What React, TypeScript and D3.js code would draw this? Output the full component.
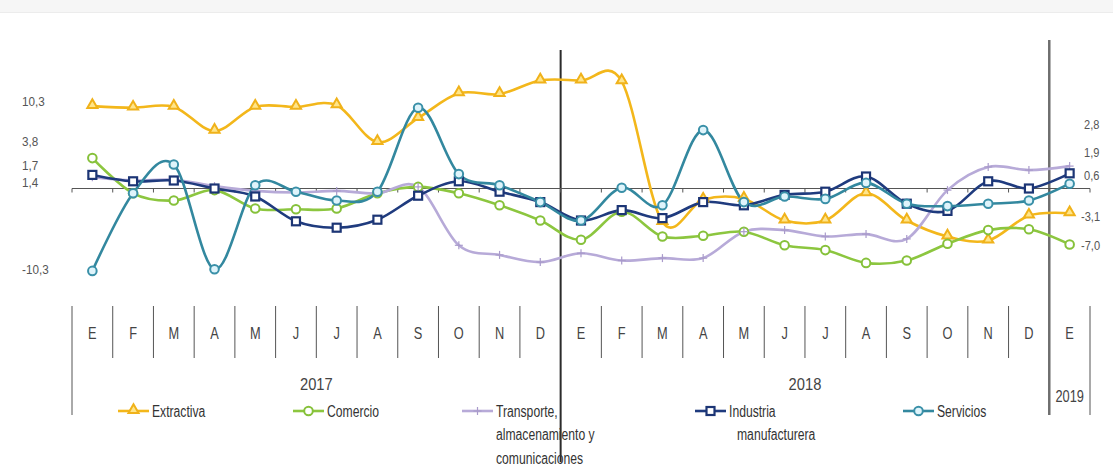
import { useMemo } from 'react';
import * as d3 from 'd3';

const WIDTH = 1113;
const HEIGHT = 466;

const months = ['E', 'F', 'M', 'A', 'M', 'J', 'J', 'A', 'S', 'O', 'N', 'D',
    'E', 'F', 'M', 'A', 'M', 'J', 'J', 'A', 'S', 'O', 'N', 'D', 'E'];
const years = ['2017', '2018', '2019'];

const extractiva = [10.3, 10.1, 10.2, 7.2, 10.2, 10.2, 10.4, 5.8, 8.8, 11.9, 11.8, 13.5, 13.5,
    13.4, -4.2, -1.4, -1.3, -4.0, -4.0, -0.6, -4.0, -6.0, -6.5, -3.4, -3.1];
const comercio = [3.8, -0.6, -1.5, -0.2, -2.5, -2.6, -2.5, -0.6, 0.2, -0.6, -2.1, -4.0, -6.4,
    -2.9, -6.0, -5.9, -5.4, -7.1, -7.7, -9.3, -9.0, -6.9, -5.2, -5.1, -7.0];
const transporte = [1.4, 1.0, 1.1, 0.3, -0.3, -0.5, -0.3, -0.6, 0.2, -7.1, -8.3, -9.2, -8.1,
    -9.0, -8.7, -8.7, -5.4, -5.2, -6.0, -5.7, -6.3, -0.2, 2.7, 2.3, 2.8];
const industria = [1.7, 0.9, 1.0, 0.0, -1.0, -4.1, -4.9, -3.9, -0.9, 0.9, -0.4, -1.7, -4.0,
    -2.7, -3.7, -1.7, -2.1, -0.8, -0.4, 1.5, -1.9, -2.8, 0.9, 0.0, 1.9];
const servicios = [-10.3, -0.6, 3.0, -10.1, 0.4, -0.4, -1.5, -0.4, 10.1, 1.8, 0.4, -1.7, -4.0,
    0.1, -2.1, 7.3, -1.7, -1.0, -1.3, 0.7, -1.9, -2.2, -1.9, -1.5, 0.6];

const seriesNames = ['Extractiva', 'Comercio', 'Transporte, almacenamiento y comunicaciones',
    'Industria manufacturera', 'Servicios'];

// labels beside the first and last month
const leftLabels = ['10,3', '3,8', '1,7', '1,4', '-10,3'];
const rightLabels = ['2,8', '1,9', '0,6', '-3,1', '-7,0'];

const FONT = "'Liberation Sans Narrow', 'Arial Narrow', 'Liberation Sans', Arial, sans-serif";

type Style = {
    line: string;
    marker: 'triangle' | 'circle' | 'cross' | 'square';
    stroke: string;
    fill: string;
};

const STYLES: Style[] = [
    { line: '#F3B71B', marker: 'triangle', stroke: '#F0B21A', fill: '#FFE58A' },
    { line: '#8CC63F', marker: 'circle', stroke: '#86C13A', fill: '#FFFFFF' },
    { line: '#B7AAD8', marker: 'cross', stroke: '#A99BCB', fill: 'none' },
    { line: '#1F3B7E', marker: 'square', stroke: '#1C3575', fill: '#FFFFFF' },
    { line: '#33889F', marker: 'circle', stroke: '#3A90A8', fill: '#DFF4FB' },
];

const Marker = ({ x, y, s }: { x: number; y: number; s: Style }) => {
    if (s.marker === 'triangle') {
        const p = d3.symbol(d3.symbolTriangle, 44)();
        return <path d={p || ''} transform={`translate(${x},${y - 1})`} fill={s.fill} stroke={s.stroke} strokeWidth={2} />;
    }
    if (s.marker === 'square') {
        return <rect x={x - 4} y={y - 4} width={8} height={8} fill={s.fill} stroke={s.stroke} strokeWidth={2.2} />;
    }
    if (s.marker === 'cross') {
        return (
            <g stroke={s.stroke} strokeWidth={1.2}>
                <line x1={x - 4} x2={x + 4} y1={y} y2={y} />
                <line x1={x} x2={x} y1={y - 4} y2={y + 4} />
            </g>
        );
    }
    return <circle cx={x} cy={y} r={4.3} fill={s.fill} stroke={s.stroke} strokeWidth={2} />;
};

// no narrow font is installed, so the regular one is squeezed sideways
const Label = ({ x, y, size, fill, sx = 0.8, anchor = 'start', children }: {
    x: number; y: number; size: number; fill: string; sx?: number; anchor?: string; children: string;
}) => (
    <text
        transform={`translate(${x},${y}) scale(${sx},1)`}
        textAnchor={anchor}
        dominantBaseline="central"
        fontFamily={FONT}
        fontSize={size}
        fill={fill}
    >
        {children}
    </text>
);

export default function App() {
    const data = [extractiva, comercio, transporte, industria, servicios];

    const xBand = useMemo(
        () => d3.scaleBand<number>().domain(d3.range(months.length)).range([72, 1090]).padding(0),
        []
    );
    const x = (i: number) => (xBand(i) || 0) + xBand.bandwidth() / 2;
    const y = useMemo(() => d3.scaleLinear().domain([-10, 10]).range([268.5, 108.5]), []);

    const line = d3
        .line<number>()
        .x((_, i) => x(i))
        .y((d) => y(d))
        .curve(d3.curveCatmullRom.alpha(0));

    const step = xBand.bandwidth();
    const bounds = d3.range(months.length + 1).map((k) => 72 + k * step);

    const leftVals = data.map((d) => d[0]);
    const rightVals = [transporte, industria, servicios, extractiva, comercio].map((d) => d[d.length - 1]);
    const leftNudge = [-4, -16, -12, 8, -1];
    const rightNudge = [-41, -21, -8, 3, 1];

    const legendX = [118, 293, 462, 695, 903];
    const legendLines = [['Extractiva'], ['Comercio'], ['Transporte,', 'almacenamiento y', 'comunicaciones'],
        ['Industria', 'manufacturera'], ['Servicios']];

    return (
        <svg width={WIDTH} height={HEIGHT} style={{ position: 'absolute', left: 0, top: 0, background: '#fff' }}>
            <rect x={0} y={0} width={WIDTH} height={12} fill="#f6f6f6" />
            <line x1={0} x2={WIDTH} y1={12.5} y2={12.5} stroke="#ececec" />

            {/* year dividers */}
            <line x1={bounds[12]} x2={bounds[12]} y1={50} y2={462} stroke="#2b2b2b" strokeWidth={2} />
            <line x1={bounds[24]} x2={bounds[24]} y1={40} y2={415} stroke="#6e6e6e" strokeWidth={2.5} />

            {/* zero axis */}
            <line x1={72} x2={1090} y1={y(0)} y2={y(0)} stroke="#555" strokeWidth={1} />
            {bounds.map((b, k) => (
                <line key={k} x1={b} x2={b} y1={y(0)} y2={y(0) + 4} stroke="#555" strokeWidth={1} />
            ))}

            {/* series lines */}
            {data.map((d, si) => (
                <path key={si} d={line(d) || ''} fill="none" stroke={STYLES[si].line} strokeWidth={2.6} strokeLinejoin="round" />
            ))}
            {data.map((d, si) => (
                <g key={si}>
                    {d.map((v, i) => (
                        <Marker key={i} x={x(i)} y={y(v)} s={STYLES[si]} />
                    ))}
                </g>
            ))}

            {/* value labels */}
            {leftLabels.map((t, i) => (
                <Label key={t} x={22} y={y(leftVals[i]) + leftNudge[i]} size={13} sx={0.9} fill="#555">{t}</Label>
            ))}
            {rightLabels.map((t, i) => (
                <Label key={t} x={t.startsWith('-') ? 1081 : 1084} y={y(rightVals[i]) + rightNudge[i]} size={13} sx={0.85} fill="#555">{t}</Label>
            ))}

            {/* month table */}
            {bounds.map((b, k) => {
                if (k === 12 || k === 24) return null;
                const long = k === 0 || k === 25;
                return <line key={k} x1={b} x2={b} y1={306} y2={long ? 415 : 358} stroke="#555" strokeWidth={1} />;
            })}
            {months.map((m, i) => (
                <Label key={i} x={x(i)} y={333} size={16} sx={0.8} fill="#444" anchor="middle">{m}</Label>
            ))}
            <Label x={(bounds[0] + bounds[12]) / 2} y={384} size={16} sx={0.92} fill="#444" anchor="middle">{years[0]}</Label>
            <Label x={(bounds[12] + bounds[24]) / 2} y={384} size={16} sx={0.92} fill="#444" anchor="middle">{years[1]}</Label>
            <Label x={x(24)} y={396} size={16} sx={0.8} fill="#444" anchor="middle">{years[2]}</Label>

            {/* legend */}
            {seriesNames.map((name, si) => {
                const lx = legendX[si];
                return (
                    <g key={name}>
                        <line x1={lx} x2={lx + 31} y1={411} y2={411} stroke={STYLES[si].line} strokeWidth={2.6} />
                        <Marker x={lx + 15.5} y={411} s={STYLES[si]} />
                        {legendLines[si].map((t, j) => (
                            <Label key={j} x={lx + 34 + (j > 0 && si === 3 ? 8 : 0)} y={411 + j * 23.5} size={16} sx={0.76} fill="#333">
                                {t}
                            </Label>
                        ))}
                    </g>
                );
            })}
        </svg>
    );
}
